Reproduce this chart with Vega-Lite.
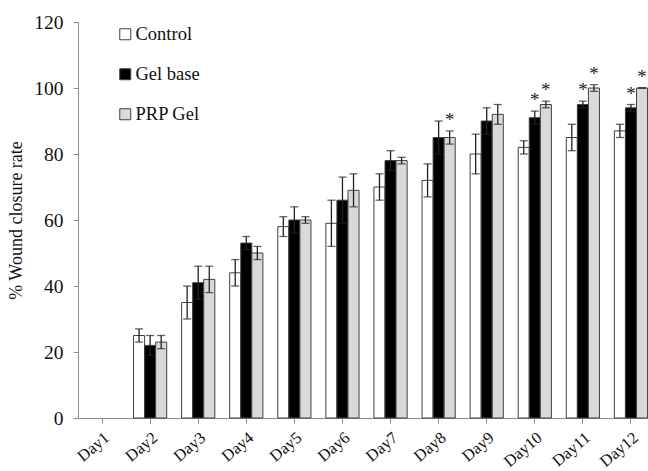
{
  "$schema": "https://vega.github.io/schema/vega-lite/v6.json",
  "width": 570,
  "height": 396,
  "autosize": {"type": "none"},
  "padding": {"left": 78, "top": 22, "right": 0, "bottom": 53},
  "background": "white",
  "config": {
    "font": "Times New Roman",
    "view": {"stroke": null},
    "text": {"font": "Times New Roman"},
    "legend": {"labelFont": "Times New Roman"},
    "axis": {"grid": false, "domainColor": "#8c8c8c", "tickColor": "#8c8c8c", "labelColor": "#111111", "titleColor": "#111111", "labelFont": "Times New Roman", "titleFont": "Times New Roman"}
  },
  "data": {
    "values": [
      {"Day": "Day2", "group": "Control", "value": 25, "lo": 23, "hi": 27, "star": 0},
      {"Day": "Day2", "group": "Gel base", "value": 22, "lo": 19, "hi": 25, "star": 0},
      {"Day": "Day2", "group": "PRP Gel", "value": 23, "lo": 21, "hi": 25, "star": 0},
      {"Day": "Day3", "group": "Control", "value": 35, "lo": 30, "hi": 40, "star": 0},
      {"Day": "Day3", "group": "Gel base", "value": 41, "lo": 36, "hi": 46, "star": 0},
      {"Day": "Day3", "group": "PRP Gel", "value": 42, "lo": 38, "hi": 46, "star": 0},
      {"Day": "Day4", "group": "Control", "value": 44, "lo": 40, "hi": 48, "star": 0},
      {"Day": "Day4", "group": "Gel base", "value": 53, "lo": 51, "hi": 55, "star": 0},
      {"Day": "Day4", "group": "PRP Gel", "value": 50, "lo": 48, "hi": 52, "star": 0},
      {"Day": "Day5", "group": "Control", "value": 58, "lo": 55, "hi": 61, "star": 0},
      {"Day": "Day5", "group": "Gel base", "value": 60, "lo": 56, "hi": 64, "star": 0},
      {"Day": "Day5", "group": "PRP Gel", "value": 60, "lo": 59, "hi": 61, "star": 0},
      {"Day": "Day6", "group": "Control", "value": 59, "lo": 52, "hi": 66, "star": 0},
      {"Day": "Day6", "group": "Gel base", "value": 66, "lo": 59, "hi": 73, "star": 0},
      {"Day": "Day6", "group": "PRP Gel", "value": 69, "lo": 64, "hi": 74, "star": 0},
      {"Day": "Day7", "group": "Control", "value": 70, "lo": 66, "hi": 74, "star": 0},
      {"Day": "Day7", "group": "Gel base", "value": 78, "lo": 75, "hi": 81, "star": 0},
      {"Day": "Day7", "group": "PRP Gel", "value": 78, "lo": 77, "hi": 79, "star": 0},
      {"Day": "Day8", "group": "Control", "value": 72, "lo": 67, "hi": 77, "star": 0},
      {"Day": "Day8", "group": "Gel base", "value": 85, "lo": 80, "hi": 90, "star": 0},
      {"Day": "Day8", "group": "PRP Gel", "value": 85, "lo": 83, "hi": 87, "star": 1},
      {"Day": "Day9", "group": "Control", "value": 80, "lo": 74, "hi": 86, "star": 0},
      {"Day": "Day9", "group": "Gel base", "value": 90, "lo": 86, "hi": 94, "star": 0},
      {"Day": "Day9", "group": "PRP Gel", "value": 92, "lo": 89, "hi": 95, "star": 0},
      {"Day": "Day10", "group": "Control", "value": 82, "lo": 80, "hi": 84, "star": 0},
      {"Day": "Day10", "group": "Gel base", "value": 91, "lo": 89, "hi": 93, "star": 1},
      {"Day": "Day10", "group": "PRP Gel", "value": 95, "lo": 94, "hi": 96, "star": 1},
      {"Day": "Day11", "group": "Control", "value": 85, "lo": 81, "hi": 89, "star": 0},
      {"Day": "Day11", "group": "Gel base", "value": 95, "lo": 94, "hi": 96, "star": 1},
      {"Day": "Day11", "group": "PRP Gel", "value": 100, "lo": 99, "hi": 101, "star": 1},
      {"Day": "Day12", "group": "Control", "value": 87, "lo": 85, "hi": 89, "star": 0},
      {"Day": "Day12", "group": "Gel base", "value": 94, "lo": 93, "hi": 95, "star": 1},
      {"Day": "Day12", "group": "PRP Gel", "value": 100, "lo": 100, "hi": 100, "star": 1}
    ]
  },
  "encoding": {
    "x": {
      "field": "Day", "type": "nominal",
      "scale": {"domain": ["Day1","Day2","Day3","Day4","Day5","Day6","Day7","Day8","Day9","Day10","Day11","Day12"], "range": [0, 577], "paddingInner": 0.31, "paddingOuter": 0.155},
      "axis": {"title": null, "labelAngle": -40, "labelFontSize": 16.5, "labelFont": "Times New Roman", "tickSize": 5, "labelPadding": 6}
    },
    "xOffset": {"field": "group", "type": "nominal", "scale": {"domain": ["Control", "Gel base", "PRP Gel"], "paddingInner": 0, "paddingOuter": 0}}
  },
  "layer": [
    {
      "mark": {"type": "bar", "stroke": "#404040", "strokeWidth": 1},
      "encoding": {
        "y": {"field": "value", "type": "quantitative", "scale": {"domain": [0, 120]},
          "axis": {"title": "% Wound closure rate", "titleFont": "Times New Roman", "labelFont": "Times New Roman", "titleFontSize": 18, "titleFontWeight": "normal", "titlePadding": 8, "values": [0,20,40,60,80,100,120], "labelFontSize": 19.5, "tickSize": 5, "labelPadding": 10}},
        "fill": {"field": "group", "type": "nominal",
          "scale": {"domain": ["Control", "Gel base", "PRP Gel"], "range": ["#ffffff", "#000000", "#d9d9d9"]},
          "legend": {"title": null, "orient": "none", "legendX": 38, "legendY": 3, "symbolType": "square", "symbolSize": 121, "symbolStrokeColor": "#404040", "symbolStrokeWidth": 1, "labelFont": "Times New Roman", "labelFontSize": 18.5, "labelColor": "#111111", "rowPadding": 21, "labelOffset": 1}}
      }
    },
    {
      "mark": {"type": "rule", "color": "#222222", "strokeWidth": 1.3},
      "encoding": {"y": {"field": "lo", "type": "quantitative"}, "y2": {"field": "hi"}}
    },
    {
      "mark": {"type": "tick", "color": "#222222", "thickness": 1.3, "size": 8},
      "encoding": {"y": {"field": "hi", "type": "quantitative"}}
    },
    {
      "mark": {"type": "tick", "color": "#222222", "thickness": 1.3, "size": 8},
      "encoding": {"y": {"field": "lo", "type": "quantitative"}}
    },
    {
      "transform": [{"filter": "datum.star == 1"}],
      "mark": {"type": "text", "text": "*", "fontSize": 19, "baseline": "middle", "dy": -11, "fill": "#222222", "font": "Times New Roman"},
      "encoding": {"y": {"field": "hi", "type": "quantitative"}}
    }
  ]
}
